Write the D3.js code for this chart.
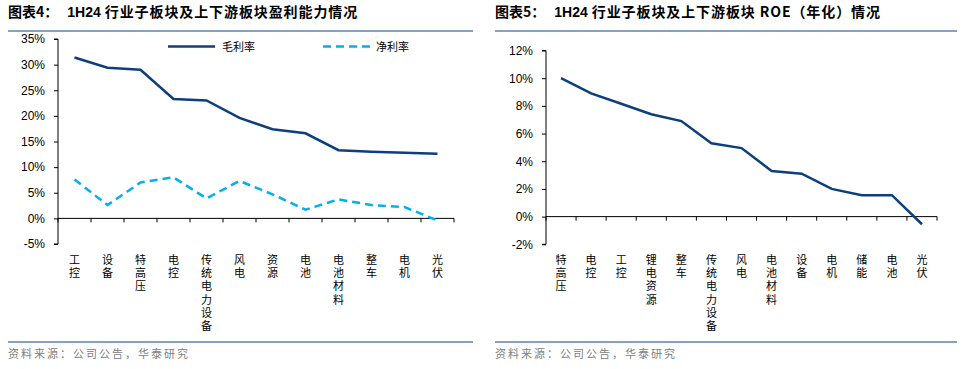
<!DOCTYPE html>
<html lang="zh">
<head>
<meta charset="utf-8">
<title>1H24 板块盈利能力</title>
<script src="https://cdn.jsdelivr.net/npm/d3@7"></script>
<style>
  body { margin: 0; background: #fff; }
  svg text { font-family: "Liberation Sans", Arial, sans-serif; }
  .cjk { font-family: "Noto Sans CJK SC", sans-serif; }
  .vert { writing-mode: vertical-rl; text-orientation: upright; }
</style>
</head>
<body>
<svg id="chart" width="969" height="369"></svg>
<script>
// ---- data ----
var leftCats = ["工控","设备","特高压","电控","传统电力设备","风电","资源","电池","电池材料","整车","电机","光伏"]
var grossMargin = [31.4,29.4,29.0,23.3,23.0,19.6,17.4,16.6,13.3,13.0,12.8,12.6]
var netMargin = [7.6,2.6,7.0,8.0,3.9,7.3,4.7,1.7,3.7,2.6,2.2,-0.4]
var leftTicks = [-5,0,5,10,15,20,25,30,35]

var rightCats = ["特高压","电控","工控","锂电资源","整车","传统电力设备","风电","电池材料","设备","电机","储能","电池","光伏"]
var roe = [10.0,8.9,8.15,7.4,6.9,5.3,4.95,3.3,3.1,2.0,1.55,1.55,-0.55]
var rightTicks = [-2,0,2,4,6,8,10,12]

var dark = "#0d3f7c", light = "#00b0f0", rule = "#5b84b1"
var svg = d3.select("#chart")

function header(x0, x1, label, rest) {
  var t = svg.append("text").attr("x", x0).attr("y", 17)
    .attr("class", "cjk").attr("font-size", 14).attr("font-weight", "bold").attr("fill", "#000")
  t.append("tspan").text(label)
  t.append("tspan").attr("dx", 9).attr("font-family", "Liberation Sans, Arial").text(rest[0])
  t.append("tspan").attr("letter-spacing", 0.9).text(rest[1])
  svg.append("line").attr("x1", x0).attr("x2", x1).attr("y1", 31).attr("y2", 31)
    .attr("stroke", rule).attr("stroke-width", 1.5)
  svg.append("line").attr("x1", x0).attr("x2", x1).attr("y1", 342).attr("y2", 342)
    .attr("stroke", rule).attr("stroke-width", 1.5)
  svg.append("text").attr("x", x0).attr("y", 358).attr("class", "cjk")
    .attr("font-size", 11).attr("letter-spacing", 2).attr("fill", "#808080").text("资料来源：公司公告，华泰研究")
}

function panel(cats, ticks, x0, x1, yTop, yBot) {
  var x = d3.scaleBand().domain(cats).range([x0, x1])
  var y = d3.scaleLinear().domain([ticks[0], ticks[ticks.length - 1]]).range([yBot, yTop])

  var ya = svg.append("g").attr("transform", "translate(" + x0 + ",0)")
    .call(d3.axisLeft(y).tickValues(ticks).tickSize(4).tickPadding(9).tickFormat(function(d){ return d + "%" }))
  ya.select(".domain").attr("stroke", "#000").attr("d", "M-4," + yBot + "H0V" + yTop + "H-4")
  ya.selectAll("text").attr("font-size", 12).attr("fill", "#000").attr("font-family", "Liberation Sans, Arial")

  // x axis at 0, ticks at band edges
  var y0 = y(0)
  var xa = svg.append("g")
  xa.append("line").attr("x1", x0).attr("x2", x1).attr("y1", y0).attr("y2", y0).attr("stroke", "#000")
  var edges = cats.map(function(c){ return x(c) }).concat([x1])
  xa.selectAll(".tk").data(edges).enter().append("line")
    .attr("x1", function(d){ return d }).attr("x2", function(d){ return d })
    .attr("y1", y0).attr("y2", y0 + 4).attr("stroke", "#000")

  // vertical category labels
  svg.append("g").selectAll("text").data(cats).enter().append("text")
    .attr("class", "cjk vert").attr("font-size", 11).attr("letter-spacing", 2.3).attr("fill", "#000")
    .attr("x", function(d){ return x(d) + x.bandwidth() / 2 })
    .attr("y", 254)
    .text(function(d){ return d })

  return { x: x, y: y }
}

function drawLine(s, cats, vals, color, dash) {
  var line = d3.line()
    .x(function(d, i){ return s.x(cats[i]) + s.x.bandwidth() / 2 })
    .y(function(d){ return s.y(d) })
  var p = svg.append("path").datum(vals).attr("d", line)
    .attr("fill", "none").attr("stroke", color).attr("stroke-width", 2.5)
  if (dash) p.attr("stroke-dasharray", dash)
}

// left chart
header(8, 473, "图表4：", ["1H24", " 行业子板块及上下游板块盈利能力情况"])
var L = panel(leftCats, leftTicks, 58, 454, 39, 244)
drawLine(L, leftCats, grossMargin, dark)
drawLine(L, leftCats, netMargin, light, "8,5")

// legend
var lg = svg.append("g")
lg.append("line").attr("x1", 168).attr("x2", 215).attr("y1", 46.5).attr("y2", 46.5).attr("stroke", dark).attr("stroke-width", 2.5)
lg.append("text").attr("x", 222).attr("y", 50.5).attr("class", "cjk").attr("font-size", 11).text("毛利率")
lg.append("line").attr("x1", 323).attr("x2", 370).attr("y1", 46.5).attr("y2", 46.5).attr("stroke", light).attr("stroke-width", 2.5).attr("stroke-dasharray", "8,5")
lg.append("text").attr("x", 376).attr("y", 50.5).attr("class", "cjk").attr("font-size", 11).text("净利率")

// right chart
header(495, 957, "图表5：", ["1H24", " 行业子板块及上下游板块 ROE（年化）情况"])
var R = panel(rightCats, rightTicks, 546, 937, 50.5, 244.3)
drawLine(R, rightCats, roe, dark)
</script>
</body>
</html>
